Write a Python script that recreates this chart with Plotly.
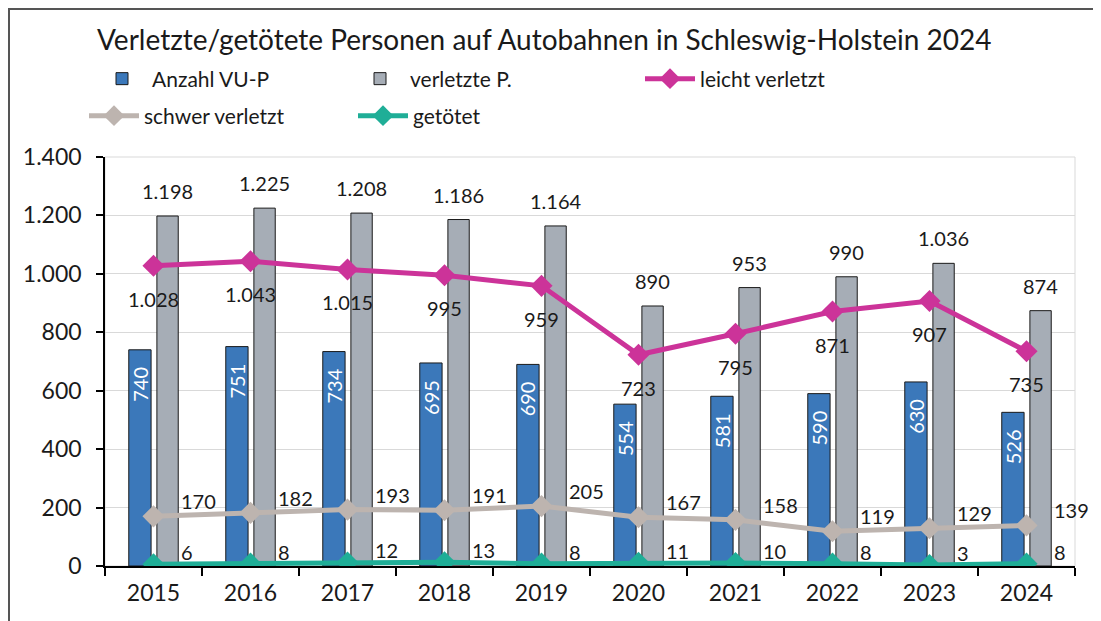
import plotly.graph_objects as go

years = ["2015", "2016", "2017", "2018", "2019", "2020", "2021", "2022", "2023", "2024"]
anzahl_vu_p = [740, 751, 734, 695, 690, 554, 581, 590, 630, 526]
verletzte_p = [1198, 1225, 1208, 1186, 1164, 890, 953, 990, 1036, 874]
leicht_verletzt = [1028, 1043, 1015, 995, 959, 723, 795, 871, 907, 735]
schwer_verletzt = [170, 182, 193, 191, 205, 167, 158, 119, 129, 139]
getoetet = [6, 8, 12, 13, 8, 11, 10, 8, 3, 8]
y_ticks = [0, 200, 400, 600, 800, 1000, 1200, 1400]

FONT = "Lato"
TXT = "#1a1a1a"

# page offset (default body margin) -> work in screen pixels, convert to figure pixels
OFF = 8
FW, FH = 1101 - OFF, 621 - OFF
# plot area in screen pixels
L, R, T, B = 105, 1075, 157, 566
W, H = R - L, B - T


def px_x(x):
    return (x - L) / W


def px_y(y):
    return (B - y) / H


def de(n):
    return f"{n:,}".replace(",", ".")


fig = go.Figure()

fig.add_bar(
    x=years, y=anzahl_vu_p, name="Anzahl VU-P", legend="legend",
    marker=dict(color="#3B78BA", line=dict(color="#1a1a1a", width=1)),
    width=0.23, offset=-0.255,
)
fig.add_bar(
    x=years, y=verletzte_p, name="verletzte P.", legend="legend2",
    marker=dict(color="#A6ADB6", line=dict(color="#1a1a1a", width=1)),
    width=0.22, offset=0.035,
)
fig.add_scatter(
    x=years, y=leicht_verletzt, name="leicht verletzt", mode="lines+markers",
    legend="legend3",
    line=dict(color="#CC3399", width=5),
    marker=dict(symbol="diamond", size=17, color="#CC3399"),
)
fig.add_scatter(
    x=years, y=schwer_verletzt, name="schwer verletzt", mode="lines+markers",
    legend="legend4",
    line=dict(color="#BDB4AF", width=5),
    marker=dict(symbol="diamond", size=17, color="#BDB4AF"),
)
fig.add_scatter(
    x=years, y=getoetet, name="getötet", mode="lines+markers",
    legend="legend5",
    line=dict(color="#1FAE97", width=5),
    marker=dict(symbol="diamond", size=17, color="#1FAE97"),
)

lab = dict(size=20, color=TXT, family=FONT)
ann = []
for i, y in enumerate(years):
    ann.append(dict(x=i - 0.14, y=anzahl_vu_p[i], text=de(anzahl_vu_p[i]),
                    showarrow=False, textangle=-90, yshift=-34,
                    xanchor="center", yanchor="middle",
                    font=dict(size=20, color="white", family=FONT)))
    ann.append(dict(x=i + 0.145, y=verletzte_p[i], text=de(verletzte_p[i]),
                    showarrow=False, yshift=25, font=lab))
    ann.append(dict(x=i, y=leicht_verletzt[i], text=de(leicht_verletzt[i]),
                    showarrow=False, yshift=-33, font=lab))
    ann.append(dict(x=i, y=schwer_verletzt[i], text=de(schwer_verletzt[i]),
                    showarrow=False, xanchor="left", xshift=25, yshift=15, font=lab))
    ann.append(dict(x=i, y=getoetet[i], text=de(getoetet[i]),
                    showarrow=False, xanchor="left", xshift=25, yshift=12, font=lab))


def leg(xpx, ypx):
    return dict(x=px_x(xpx), xanchor="left", y=px_y(ypx), yanchor="middle",
                orientation="v", itemwidth=50,
                font=dict(size=21, color=TXT, family=FONT),
                bgcolor="rgba(0,0,0,0)", borderwidth=0)


fig.update_layout(
    width=FW, height=FH,
    margin=dict(l=L - OFF, r=1101 - R, t=T - OFF, b=621 - B, autoexpand=False),
    paper_bgcolor="white", plot_bgcolor="white",
    separators=",.",
    font=dict(family=FONT, size=20, color=TXT),
    title=dict(text="Verletzte/getötete Personen auf Autobahnen in Schleswig-Holstein 2024",
               x=(97 - OFF) / FW, xanchor="left", y=1 - (40 - OFF) / FH, yanchor="middle",
               xref="container", yref="container",
               font=dict(size=28, color=TXT, family=FONT)),
    legend=leg(92, 79),
    legend2=leg(350, 79),
    legend3=leg(640, 79),
    legend4=leg(84, 116),
    legend5=leg(353, 116),
    showlegend=True,
    annotations=ann,
    shapes=[
        dict(type="rect", xref="paper", yref="paper", x0=0, x1=1, y0=0, y1=1,
             line=dict(color="#D9D9D9", width=1), layer="below"),
        dict(type="rect", xref="paper", yref="paper",
             x0=px_x(9), x1=px_x(1115), y0=px_y(640), y1=px_y(9),
             line=dict(color="#555555", width=2)),
    ],
)
fig.update_xaxes(
    type="category", tickson="boundaries", ticks="outside", ticklen=8,
    tickcolor="black", tickwidth=1.5, showline=True, linecolor="black", linewidth=1.5,
    showgrid=False, tickfont=dict(size=23, color=TXT, family=FONT),
    ticklabelstandoff=6, range=[-0.5, 9.5],
)
fig.update_yaxes(
    range=[0, 1400], tickvals=y_ticks, tickformat=",d",
    ticks="outside", ticklen=7, tickcolor="black", tickwidth=1.5,
    showline=True, linecolor="black", linewidth=1.5,
    showgrid=True, gridcolor="#D9D9D9", gridwidth=1,
    zeroline=False, tickfont=dict(size=23, color=TXT, family=FONT),
    ticklabelstandoff=10,
)

fig.write_html("out.html")
